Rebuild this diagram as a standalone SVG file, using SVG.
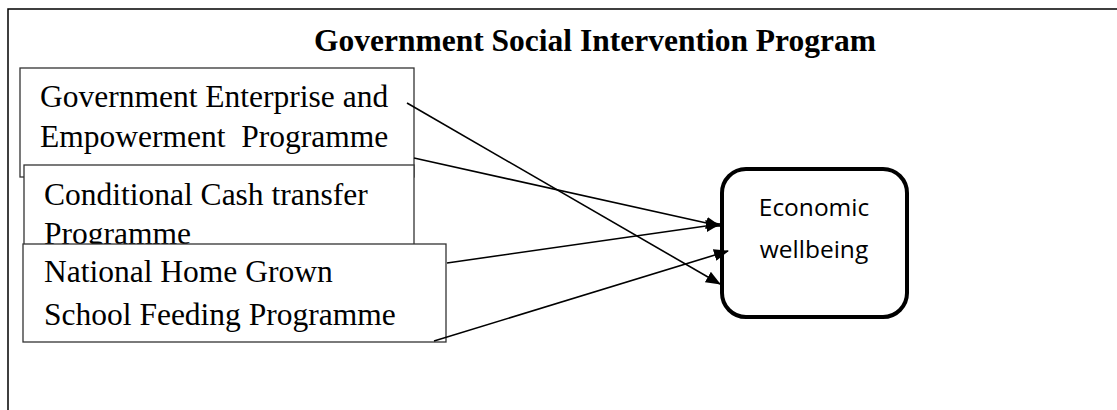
<svg xmlns="http://www.w3.org/2000/svg" width="1117" height="410" viewBox="0 0 1117 410">
<style>
.frame{fill:none;stroke:#000;stroke-width:1.5}
.box{fill:#fff;stroke:#333;stroke-width:1.3}
.t{font-family:"Liberation Serif",serif;font-size:31.5px;fill:#000;white-space:pre}
.title{font-family:"Liberation Serif",serif;font-size:31.5px;font-weight:bold;fill:#000}
.e{font-family:"Open Sans","Noto Sans",sans-serif;font-size:24.5px;fill:#000}
.c{stroke:#000;stroke-width:1.6;fill:none;marker-end:url(#ah)}
</style>
<defs>
<marker id="ah" markerWidth="15" markerHeight="12" refX="14" refY="6" orient="auto" markerUnits="userSpaceOnUse">
<path d="M0,0 L15,6 L0,12 z" fill="#000"/>
</marker>
</defs>
<rect width="1117" height="410" fill="#fff"/>
<g id="frame">
<path class="frame" d="M8,420 L8,9 L1130,9"/>
<text class="title" x="595" y="51" text-anchor="middle">Government Social Intervention Program</text>
</g>
<g id="node-geep">
<rect class="box" x="20" y="68" width="394" height="109"/>
<text class="t" x="40" y="107">Government Enterprise and</text>
<text class="t" x="40" y="147" xml:space="preserve">Empowerment  Programme</text>
</g>
<g id="node-cct">
<rect class="box" x="24" y="165" width="390" height="100"/>
<text class="t" x="44" y="205">Conditional Cash transfer</text>
<text class="t" x="44" y="244">Programme</text>
</g>
<g id="node-nhgsfp">
<rect class="box" x="23" y="244" width="423" height="98"/>
<text class="t" x="44" y="282">National Home Grown</text>
<text class="t" x="44" y="325">School Feeding Programme</text>
</g>
<g id="node-ew">
<rect x="722" y="169" width="185" height="148" rx="24" ry="24" fill="#fff" stroke="#000" stroke-width="4"/>
<text class="e" x="814" y="216" text-anchor="middle">Economic</text>
<text class="e" x="814" y="258" text-anchor="middle">wellbeing</text>
</g>
<g id="connectors">
<line class="c" x1="407" y1="103" x2="720" y2="284"/>
<line class="c" x1="414" y1="158" x2="720" y2="226"/>
<line class="c" x1="447" y1="263" x2="720" y2="224"/>
<line class="c" x1="434" y1="341" x2="728" y2="251"/>
</g>
</svg>
